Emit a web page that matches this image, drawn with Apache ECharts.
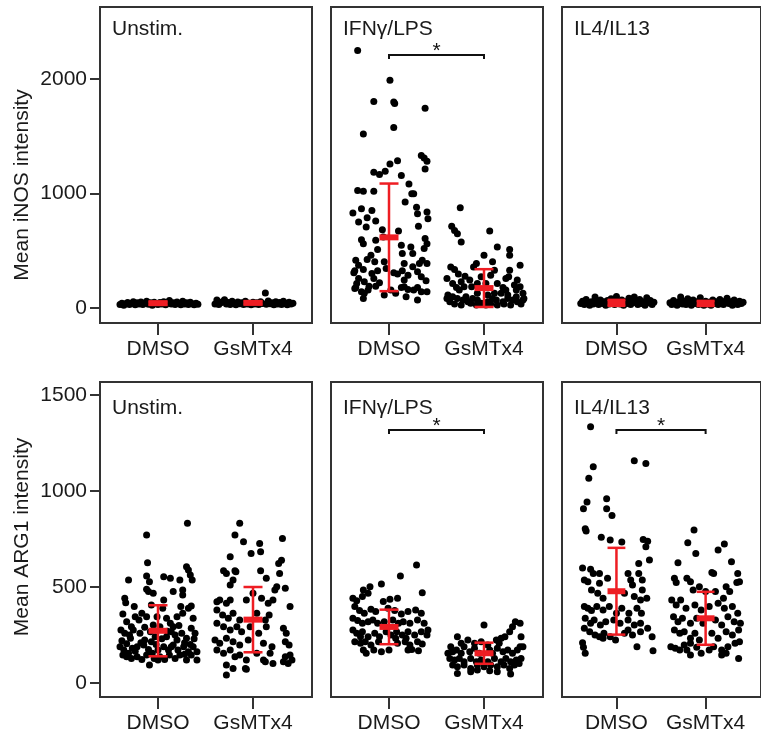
<!DOCTYPE html>
<html>
<head>
<meta charset="utf-8">
<script src="https://cdn.jsdelivr.net/npm/echarts@6/dist/echarts.min.js"></script>
<style>
  html, body { margin: 0; padding: 0; background: #fff; }
  #chart { width: 761px; height: 735px; }
</style>
</head>
<body>
<div id="chart"></div>
<script>
// categories
const conditions = ['Unstim.', 'IFNγ/LPS', 'IL4/IL13'];
const groups = ['DMSO', 'GsMTx4'];
const inosTicks = [0, 1000, 2000];
const arg1Ticks = [0, 500, 1000, 1500];

// mean and SD per condition, [DMSO, GsMTx4]
const inosMean = [[42, 45], [617, 174], [45, 40]];
const inosSd = [[12, 12], [470, 165], [26, 22]];
const arg1Mean = [[272, 330], [292, 155], [478, 337]];
const arg1Sd = [[133, 170], [90, 55], [226, 138]];
const sigInos = [false, true, false];
const sigArg1 = [false, true, true];

// single cells: [jitter, value]
const inosUnstimDmso = [[-0.40,30],[-0.38,42],[-0.36,25],[-0.34,38],[-0.32,48],[-0.30,30],[-0.28,40],[-0.26,55],[-0.24,28],[-0.22,45],[-0.20,35],[-0.18,52],[-0.16,30],[-0.14,42],[-0.12,60],[-0.10,32],[-0.08,45],[-0.06,25],[-0.04,50],[-0.02,38],[0.00,30],[0.02,48],[0.04,35],[0.06,55],[0.08,28],[0.10,42],[0.12,65],[0.14,35],[0.16,45],[0.18,30],[0.20,52],[0.22,40],[0.24,28],[0.26,60],[0.28,35],[0.30,45],[0.32,30],[0.34,50],[0.36,38],[0.38,28],[0.40,42],[0.42,32]];
const inosUnstimGsm = [[-0.40,35],[-0.38,70],[-0.36,30],[-0.34,45],[-0.32,55],[-0.30,72],[-0.28,35],[-0.26,48],[-0.24,30],[-0.22,60],[-0.20,40],[-0.18,28],[-0.16,52],[-0.14,38],[-0.12,45],[-0.10,30],[-0.08,58],[-0.06,35],[-0.04,42],[-0.02,28],[0.00,50],[0.02,36],[0.04,45],[0.06,30],[0.08,55],[0.10,40],[0.13,130],[0.14,32],[0.16,62],[0.18,38],[0.20,45],[0.22,28],[0.24,55],[0.26,35],[0.28,48],[0.30,30],[0.32,60],[0.34,40],[0.36,28],[0.38,50],[0.40,35],[0.42,42]];
const inosIfnDmso = [[-0.33,2250],[0.01,1989],[-0.16,1803],[0.05,1800],[0.06,1786],[0.38,1745],[0.05,1577],[-0.27,1519],[0.34,1331],[0.37,1310],[0.40,1281],[0.38,1215],[0.09,1287],[0.01,1258],[-0.16,1186],[-0.10,1165],[-0.04,1194],[0.13,1157],[-0.33,1026],[-0.27,1020],[-0.16,1020],[0.21,1084],[0.24,997],[0.26,997],[0.17,925],[-0.38,829],[-0.29,867],[-0.18,852],[0.29,881],[0.30,823],[0.40,838],[0.41,780],[-0.32,751],[-0.23,789],[-0.24,707],[-0.14,760],[-0.07,684],[0.10,673],[0.31,713],[-0.29,597],[-0.27,562],[-0.14,591],[-0.06,620],[0.38,606],[0.40,562],[0.37,519],[0.23,533],[0.25,475],[0.13,548],[0.14,475],[0.16,388],[-0.12,510],[-0.19,461],[-0.15,403],[-0.35,417],[-0.23,423],[-0.32,374],[-0.36,325],[-0.05,403],[-0.03,345],[0.32,388],[0.35,417],[0.40,388],[-0.27,336],[-0.18,301],[-0.12,325],[-0.37,307],[-0.32,258],[-0.34,214],[-0.36,171],[-0.26,229],[-0.21,191],[-0.14,191],[-0.16,258],[0.05,307],[0.09,296],[0.14,325],[0.16,244],[0.20,287],[0.25,360],[0.30,316],[0.34,272],[0.39,238],[-0.29,142],[-0.26,128],[-0.22,157],[-0.27,84],[-0.05,113],[0.02,157],[0.16,186],[0.18,99],[0.20,162],[0.26,157],[0.30,180],[0.34,142],[0.40,142],[0.13,180],[0.07,128],[0.30,70],[-0.35,180],[-0.10,220]];
const inosIfnGsm = [[-0.25,875],[-0.34,713],[-0.31,678],[-0.28,649],[-0.24,577],[0.06,673],[0.14,533],[0.27,510],[0.27,461],[0.00,461],[0.38,374],[-0.35,359],[-0.31,336],[-0.27,296],[-0.20,278],[-0.11,359],[-0.08,388],[0.09,403],[0.11,330],[0.07,287],[0.27,330],[0.26,272],[0.32,200],[-0.33,214],[-0.29,180],[-0.26,157],[-0.21,186],[-0.15,244],[-0.13,186],[-0.07,214],[0.14,214],[0.20,180],[0.18,128],[0.23,157],[0.34,157],[0.38,186],[0.41,128],[-0.38,113],[-0.33,99],[-0.28,84],[-0.22,70],[-0.17,55],[-0.12,84],[-0.07,70],[-0.03,41],[0.04,55],[0.09,84],[0.13,70],[0.20,55],[0.25,84],[0.30,70],[0.35,55],[0.41,70],[-0.36,55],[-0.31,35],[-0.24,26],[-0.19,99],[-0.14,41],[-0.08,26],[0.02,26],[0.07,35],[0.14,26],[0.21,35],[0.28,26],[0.34,99],[0.39,35],[-0.39,84],[-0.07,128],[0.04,113],[0.11,128],[0.25,113],[0.42,84],[-0.39,258],[-0.24,229],[-0.03,272],[0.02,214],[0.23,258],[0.35,244]];
const inosIl4Dmso = [[-0.40,40],[-0.38,60],[-0.36,30],[-0.34,75],[-0.32,45],[-0.30,25],[-0.28,55],[-0.26,35],[-0.24,95],[-0.22,50],[-0.20,30],[-0.18,70],[-0.16,40],[-0.14,55],[-0.12,25],[-0.10,65],[-0.08,35],[-0.06,80],[-0.04,45],[-0.02,30],[0.00,100],[0.02,50],[0.04,35],[0.06,70],[0.08,25],[0.10,55],[0.12,40],[0.14,85],[0.16,30],[0.18,60],[0.20,95],[0.22,45],[0.24,30],[0.26,75],[0.28,40],[0.30,55],[0.32,25],[0.34,90],[0.36,45],[0.38,65],[0.40,30],[0.42,50]];
const inosIl4Gsm = [[-0.40,45],[-0.38,30],[-0.36,65],[-0.34,40],[-0.32,25],[-0.30,55],[-0.28,95],[-0.26,35],[-0.24,60],[-0.22,30],[-0.20,80],[-0.18,45],[-0.16,25],[-0.14,70],[-0.12,40],[-0.10,55],[-0.08,30],[-0.06,90],[-0.04,45],[-0.02,25],[0.00,60],[0.02,35],[0.04,50],[0.06,25],[0.08,70],[0.10,40],[0.12,55],[0.14,30],[0.16,75],[0.18,45],[0.20,30],[0.22,60],[0.24,85],[0.26,40],[0.28,55],[0.30,25],[0.32,70],[0.34,45],[0.36,30],[0.38,60],[0.40,40],[0.42,50]];
const arg1UnstimDmso = [[-0.12,771],[0.31,832],[-0.11,627],[-0.31,536],[-0.12,557],[-0.09,528],[-0.12,488],[-0.10,476],[0.06,554],[0.13,545],[0.23,536],[0.30,606],[0.32,588],[0.34,562],[0.36,536],[0.26,484],[0.26,458],[0.16,476],[-0.35,441],[-0.34,418],[-0.25,398],[-0.05,467],[-0.07,406],[0.06,432],[0.05,389],[0.24,398],[0.26,363],[0.32,389],[0.35,401],[-0.37,359],[-0.33,319],[-0.24,345],[-0.20,328],[-0.28,293],[-0.17,363],[-0.12,345],[-0.01,345],[-0.05,302],[0.20,345],[0.13,311],[0.16,293],[0.37,337],[0.35,285],[0.39,259],[-0.39,276],[-0.35,259],[-0.29,233],[-0.26,276],[-0.19,259],[-0.14,224],[-0.08,267],[-0.03,241],[0.09,241],[0.14,267],[0.20,224],[0.25,259],[0.30,233],[-0.40,189],[-0.36,172],[-0.31,155],[-0.27,181],[-0.22,189],[-0.15,198],[-0.10,175],[-0.06,155],[0.00,172],[0.06,189],[0.11,172],[0.16,198],[0.21,172],[0.27,189],[0.32,163],[0.37,189],[0.41,163],[-0.37,146],[-0.33,137],[-0.28,128],[-0.22,137],[-0.17,123],[-0.12,146],[-0.09,94],[-0.04,128],[0.02,137],[0.07,123],[0.12,146],[0.18,128],[0.23,146],[0.30,120],[0.35,146],[0.41,120],[0.02,293],[0.09,337],[-0.07,215],[0.14,189],[-0.38,220],[-0.33,205],[-0.18,210],[-0.02,200],[0.04,230],[0.18,250],[0.28,210],[0.34,200],[-0.30,250],[-0.14,290],[0.10,270],[0.22,300],[0.38,230],[-0.24,165],[0.00,120],[0.28,150]];
const arg1UnstimGsm = [[-0.14,832],[-0.19,771],[-0.10,736],[0.07,727],[0.08,684],[-0.02,675],[0.31,753],[-0.24,658],[-0.31,585],[-0.28,571],[-0.19,585],[-0.18,580],[-0.24,510],[-0.21,536],[0.08,585],[0.14,545],[0.27,623],[0.30,640],[0.28,571],[0.34,493],[0.25,502],[0.23,484],[-0.38,423],[-0.35,432],[-0.28,415],[-0.24,432],[-0.07,432],[0.00,467],[0.09,441],[0.16,415],[0.21,432],[0.39,398],[-0.38,380],[-0.32,354],[-0.26,337],[-0.21,363],[-0.14,328],[0.04,363],[0.13,328],[0.17,354],[-0.38,311],[-0.31,293],[-0.24,276],[-0.17,293],[-0.12,267],[-0.03,293],[0.06,259],[0.14,293],[0.32,285],[0.35,259],[-0.40,224],[-0.35,207],[-0.28,233],[-0.21,215],[-0.14,198],[-0.05,224],[0.11,207],[0.20,189],[0.34,215],[0.38,198],[-0.38,172],[-0.31,155],[-0.24,172],[-0.19,137],[-0.14,146],[-0.07,120],[0.04,155],[0.11,120],[0.18,155],[0.34,137],[0.39,146],[-0.28,94],[-0.21,76],[-0.07,71],[-0.08,76],[0.13,111],[0.21,102],[0.32,111],[0.37,102],[0.41,120],[-0.28,42]];
const arg1IfnDmso = [[0.29,615],[0.12,557],[0.35,470],[-0.08,516],[-0.20,502],[-0.27,484],[-0.22,467],[-0.38,441],[-0.34,429],[-0.28,450],[-0.06,424],[0.01,436],[0.09,441],[-0.36,398],[-0.31,377],[-0.26,363],[-0.19,384],[-0.14,372],[-0.01,389],[0.06,377],[0.13,359],[0.20,372],[0.28,380],[0.34,363],[-0.38,337],[-0.33,325],[-0.28,311],[-0.22,319],[-0.17,328],[-0.12,311],[-0.05,319],[0.04,328],[0.10,311],[0.15,319],[0.22,311],[0.30,328],[0.37,311],[-0.38,276],[-0.34,259],[-0.28,267],[-0.22,241],[-0.15,259],[-0.10,241],[-0.03,267],[0.02,250],[0.08,267],[0.14,250],[0.20,267],[0.27,250],[0.34,267],[0.40,250],[-0.36,215],[-0.30,207],[-0.25,215],[-0.19,198],[-0.11,215],[0.09,207],[0.17,215],[0.22,198],[0.30,215],[0.35,203],[-0.27,172],[-0.24,155],[-0.16,172],[-0.08,163],[0.00,172],[0.20,172],[0.24,175],[0.31,168],[-0.30,241],[0.07,233],[0.18,233],[0.41,276]];
const arg1IfnGsm = [[0.00,302],[0.30,293],[0.38,311],[0.33,319],[0.27,267],[0.22,241],[0.18,233],[0.13,224],[0.16,207],[0.39,241],[0.38,189],[0.41,189],[-0.28,241],[-0.24,207],[-0.17,224],[-0.21,189],[-0.35,189],[-0.38,155],[-0.33,163],[-0.29,172],[-0.24,155],[-0.15,163],[-0.10,181],[-0.05,155],[0.06,172],[0.09,155],[0.14,181],[0.20,163],[0.25,172],[0.30,155],[0.35,172],[-0.36,128],[-0.31,120],[-0.26,128],[-0.21,111],[-0.14,128],[-0.08,111],[-0.03,120],[0.04,111],[0.11,128],[0.18,111],[0.23,128],[0.28,111],[0.34,120],[0.39,128],[-0.33,94],[-0.28,85],[-0.21,94],[-0.14,76],[-0.07,94],[0.00,85],[0.07,94],[0.14,85],[0.21,94],[0.27,76],[0.32,94],[0.37,102],[-0.28,50],[-0.14,59],[-0.07,68],[0.06,64],[0.14,59],[0.28,47],[-0.10,207],[-0.03,215],[0.04,198]];
const arg1Il4Dmso = [[-0.29,1335],[0.20,1158],[0.33,1144],[-0.26,1127],[-0.31,1066],[-0.11,960],[-0.33,943],[-0.37,908],[-0.11,908],[-0.05,873],[-0.35,804],[-0.34,792],[-0.17,759],[-0.07,745],[0.06,734],[0.30,748],[0.35,739],[0.33,710],[0.37,641],[0.25,623],[0.25,571],[-0.38,599],[-0.29,592],[-0.26,571],[-0.36,536],[-0.32,528],[-0.19,571],[-0.19,519],[-0.10,545],[0.13,571],[0.16,536],[0.18,510],[0.29,536],[0.29,484],[-0.28,484],[-0.21,467],[-0.15,441],[0.09,467],[0.20,450],[0.27,432],[0.34,441],[-0.36,398],[-0.32,389],[-0.28,377],[-0.22,398],[-0.15,380],[-0.08,398],[0.00,363],[0.06,389],[0.14,363],[0.23,389],[0.28,363],[-0.35,337],[-0.29,311],[-0.25,328],[-0.18,302],[-0.12,319],[-0.03,328],[0.04,311],[0.13,328],[0.20,302],[0.27,311],[-0.36,285],[-0.30,267],[-0.24,250],[-0.19,241],[-0.14,259],[-0.07,241],[0.09,259],[0.18,250],[0.27,267],[0.35,285],[0.40,241],[-0.38,210],[-0.37,186],[-0.35,155],[0.23,189],[0.41,168],[-0.15,233],[-0.01,224],[0.13,276]];
const arg1Il4Gsm = [[-0.13,797],[-0.20,731],[-0.11,675],[0.14,693],[0.21,724],[-0.31,627],[0.29,632],[0.07,575],[0.09,571],[0.36,571],[0.38,528],[0.35,523],[-0.35,545],[-0.33,523],[-0.21,545],[-0.17,528],[-0.14,484],[-0.07,502],[0.00,476],[0.11,476],[0.23,502],[0.27,476],[0.20,441],[-0.38,432],[-0.33,406],[-0.28,432],[-0.22,389],[-0.12,406],[-0.05,380],[0.04,398],[0.14,415],[0.21,389],[0.30,398],[0.36,363],[-0.36,345],[-0.31,319],[-0.26,337],[-0.17,311],[-0.10,337],[-0.03,311],[0.11,328],[0.18,302],[0.25,345],[0.32,319],[0.39,311],[-0.35,276],[-0.29,259],[-0.24,267],[-0.17,233],[-0.12,259],[-0.07,224],[0.07,259],[0.14,233],[0.23,267],[0.30,250],[0.37,276],[-0.39,189],[-0.34,181],[-0.29,172],[-0.24,198],[-0.17,207],[-0.10,186],[0.09,189],[0.18,172],[0.25,189],[0.33,207],[0.38,215],[-0.17,146],[-0.05,155],[0.18,146],[0.23,155],[0.37,128],[-0.21,172],[0.04,172]];

const FONT = '"Liberation Sans", Arial, Helvetica, sans-serif';
const TEXT = '#1a1a1a';
const AXIS = '#333';
const RED = '#ee1d23';

const rows = [
	{ top: 7, height: 316, min: -131, max: 2629, ticks: inosTicks, name: 'Mean iNOS intensity', nameY: 185, titleTop: 19, bracket: 2210,
		mean: inosMean, sd: inosSd, sig: sigInos,
		points: [[inosUnstimDmso, inosUnstimGsm], [inosIfnDmso, inosIfnGsm], [inosIl4Dmso, inosIl4Gsm]] },
	{ top: 382, height: 315, min: -73, max: 1568, ticks: arg1Ticks, name: 'Mean ARG1 intensity', nameY: 537, titleTop: 398, bracket: 1318,
		mean: arg1Mean, sd: arg1Sd, sig: sigArg1,
		points: [[arg1UnstimDmso, arg1UnstimGsm], [arg1IfnDmso, arg1IfnGsm], [arg1Il4Dmso, arg1Il4Gsm]] }
];
const colLefts = [100, 331, 562];

function renderErrorBar(params, api) {
	const x = api.value(0), m = api.value(1), s = api.value(2);
	const top = api.coord([x, m + s]);
	const bot = api.coord([x, m - s]);
	const mid = api.coord([x, m]);
	const l = api.coord([x - 0.1, m])[0];
	const r = api.coord([x + 0.1, m])[0];
	const st = { stroke: RED, lineWidth: 2.5 };
	return {
		type: 'group',
		children: [
			{ type: 'line', shape: { x1: top[0], y1: top[1], x2: bot[0], y2: bot[1] }, style: st },
			{ type: 'line', shape: { x1: l, y1: top[1], x2: r, y2: top[1] }, style: st },
			{ type: 'line', shape: { x1: l, y1: bot[1], x2: r, y2: bot[1] }, style: st },
			{ type: 'line', shape: { x1: l, y1: mid[1], x2: r, y2: mid[1] }, style: { stroke: RED, lineWidth: 6 } }
		]
	};
}

function renderBracket(params, api) {
	const a = api.coord([api.value(0), api.value(2)]);
	const b = api.coord([api.value(1), api.value(2)]);
	return {
		type: 'group',
		children: [
			{ type: 'polyline', shape: { points: [[a[0], a[1] + 4], a, b, [b[0], b[1] + 4]] }, style: { stroke: '#111', lineWidth: 2, fill: null } },
			{ type: 'text', x: (a[0] + b[0]) / 2, y: a[1] - 14, style: { text: '*', fontSize: 21, fontFamily: FONT, fill: '#111', align: 'center', verticalAlign: 'top' } }
		]
	};
}

const grid = [], xAxis = [], yAxis = [], series = [], title = [], graphic = [];

rows.forEach((row, r) => {
	graphic.push({
		type: 'text', x: 22, y: row.nameY, rotation: Math.PI / 2,
		style: { text: row.name, fontSize: 21, fontFamily: FONT, fill: TEXT, align: 'center', verticalAlign: 'middle' }
	});
	conditions.forEach((cond, c) => {
		const idx = r * 3 + c;
		grid.push({ left: colLefts[c], top: row.top, width: 212, height: row.height, show: true, borderColor: AXIS, borderWidth: 2 });
		xAxis.push({
			type: 'value', gridIndex: idx, min: 0.3895, max: 2.621,
			axisLine: { show: false, onZero: false }, splitLine: { show: false },
			axisTick: { show: true, customValues: [1, 2], length: 12, lineStyle: { color: AXIS, width: 2 } },
			axisLabel: { customValues: [1, 2], formatter: v => groups[Math.round(v) - 1], margin: 16, fontSize: 21, fontFamily: FONT, color: TEXT }
		});
		yAxis.push({
			type: 'value', gridIndex: idx, min: row.min, max: row.max,
			axisLine: { show: false, onZero: false }, splitLine: { show: false },
			axisTick: { show: c === 0, customValues: row.ticks, length: 10, lineStyle: { color: AXIS, width: 2 } },
			axisLabel: { show: c === 0, customValues: row.ticks, formatter: v => String(v), margin: 13, fontSize: 21, fontFamily: FONT, color: TEXT }
		});
		title.push({
			text: cond, left: colLefts[c] + 12, top: row.titleTop, padding: 0,
			textStyle: { fontSize: 21, fontWeight: 'normal', fontFamily: FONT, color: TEXT }
		});
		row.points[c].forEach((pts, g) => {
			series.push({
				type: 'scatter', name: cond + ' ' + groups[g], xAxisIndex: idx, yAxisIndex: idx,
				symbolSize: 7, itemStyle: { color: '#000', opacity: 1 },
				data: pts.map(p => [g + 1 + p[0], p[1]]), z: 2
			});
		});
		series.push({
			type: 'custom', xAxisIndex: idx, yAxisIndex: idx, renderItem: renderErrorBar, z: 5,
			encode: { x: 0, y: 1 },
			data: groups.map((g, i) => [i + 1, row.mean[c][i], row.sd[c][i]])
		});
		if (row.sig[c]) {
			series.push({
				type: 'custom', xAxisIndex: idx, yAxisIndex: idx, renderItem: renderBracket, z: 5,
				encode: { x: 0, y: 2 },
				data: [[1, 2, row.bracket]]
			});
		}
	});
});

const chart = echarts.init(document.getElementById('chart'), null, { renderer: 'canvas' });
chart.setOption({
	animation: false,
	backgroundColor: '#fff',
	title, grid, xAxis, yAxis, series, graphic
});
</script>
</body>
</html>
